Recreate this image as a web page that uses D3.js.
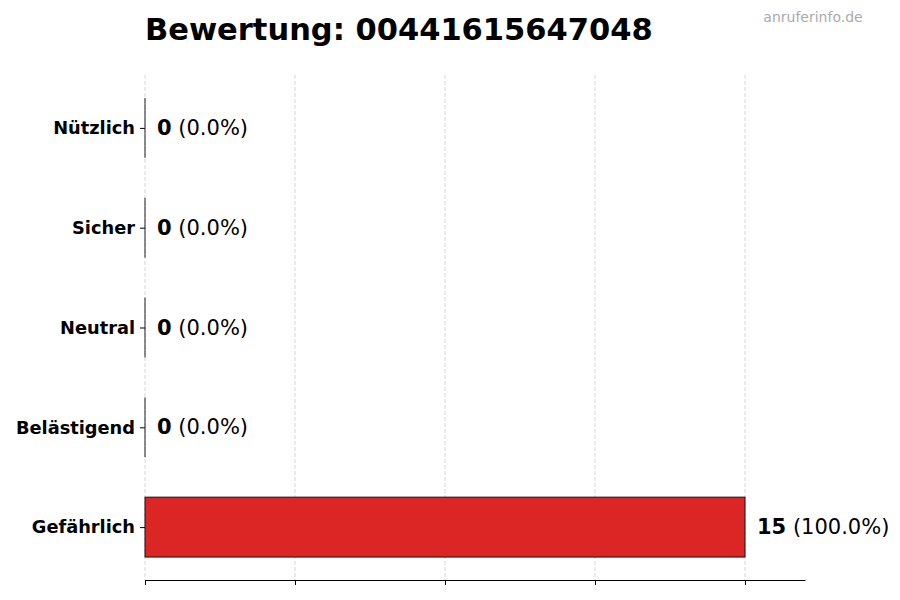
<!DOCTYPE html>
<html lang="de">
    <head>
        <meta charset="utf-8">
        <title>Bewertung</title>
        <script type="text/javascript" src="https://cdnjs.cloudflare.com/ajax/libs/d3/7.8.5/d3.min.js"></script>
        <style>
            body { margin: 0; background: #fff; }
            text { font-family: "DejaVu Sans", sans-serif; }
        </style>
    </head>
    <body>
        <script type="text/javascript">
// data, bottom to top like the source plot
var categories = ["Gefährlich", "Belästigend", "Neutral", "Sicher", "Nützlich"];
var counts = [15, 0, 0, 0, 0];
var xTicks = [0, 3.75, 7.5, 11.25, 15];
var title = "Bewertung: 00441615647048";

var w = 900;
var h = 600;
var total = d3.sum(counts);

var svg = d3.select("body")
    .append("svg")
    .attr("width", w)
    .attr("height", h);

var x = d3.scaleLinear()
    .domain([0, 16.5])
    .range([145, 805]);

// index scale, bar height 0.6 like matplotlib barh
var y = d3.scaleLinear()
    .domain([-0.53, 4.53])
    .range([580, 75]);
var barH = y(0) - y(0.6);

// grid
svg.selectAll("line.grid")
    .data(xTicks)
    .enter()
    .append("line")
    .attr("class", "grid")
    .attr("x1", function(d) { return x(d); })
    .attr("x2", function(d) { return x(d); })
    .attr("y1", 75)
    .attr("y2", 580)
    .attr("stroke", "#cccccc")
    .attr("stroke-width", 0.8)
    .attr("stroke-dasharray", "4,2");

// bars
var bars = svg.selectAll("g.bar")
    .data(counts)
    .enter()
    .append("g")
    .attr("class", "bar");

bars.append("rect")
    .attr("x", x(0))
    .attr("y", function(d, i) { return y(i) - barH / 2; })
    .attr("width", function(d) { return x(d) - x(0); })
    .attr("height", barH)
    .attr("fill", "#dc2626")
    .attr("stroke", "#111")
    .attr("stroke-width", 1);

// zero bars still show their edge
bars.each(function(d, i) {
    if (d !== 0) return;
    d3.select(this).append("line")
        .attr("x1", x(0))
        .attr("x2", x(0))
        .attr("y1", y(i) - barH / 2)
        .attr("y2", y(i) + barH / 2)
        .attr("stroke", "#222")
        .attr("stroke-width", 1);
});

// value labels
var lab = bars.append("text")
    .attr("x", function(d) { return x(d) + 12; })
    .attr("y", function(d, i) { return y(i) + 7; })
    .attr("font-size", "21px")
    .attr("fill", "#000");
lab.append("tspan")
    .attr("font-weight", "bold")
    .text(function(d) { return d; });
lab.append("tspan")
    .text(function(d) { return " (" + (total ? d / total * 100 : 0).toFixed(1) + "%)"; });

// y axis labels + ticks
var yAxis = d3.axisLeft(y)
    .tickValues(d3.range(categories.length))
    .tickFormat(function(i) { return categories[i]; })
    .tickSize(5)
    .tickPadding(5);
var gy = svg.append("g")
    .attr("transform", "translate(" + x(0) + ",0)")
    .call(yAxis);
gy.select(".domain").remove();
gy.selectAll("text")
    .attr("font-size", "17.8px")
    .attr("font-weight", "bold")
    .attr("font-family", "DejaVu Sans, sans-serif")
    .attr("fill", "#000");
gy.selectAll("line").attr("stroke", "#000");

// x axis without labels
var xAxis = d3.axisBottom(x)
    .tickValues(xTicks)
    .tickFormat("")
    .tickSize(5)
    .tickSizeOuter(0);
var gx = svg.append("g")
    .attr("transform", "translate(0,580)")
    .call(xAxis);
gx.select(".domain").attr("stroke", "#000");
gx.selectAll("line").attr("stroke", "#000");

// title + watermark
svg.append("text")
    .attr("x", 145)
    .attr("y", 40)
    .attr("font-size", "30.5px")
    .attr("font-weight", "bold")
    .text(title);

svg.append("text")
    .attr("x", 813)
    .attr("y", 22)
    .attr("text-anchor", "middle")
    .attr("font-size", "14px")
    .attr("fill", "#aaaaaa")
    .text("anruferinfo.de");
        </script>
    </body>
</html>
